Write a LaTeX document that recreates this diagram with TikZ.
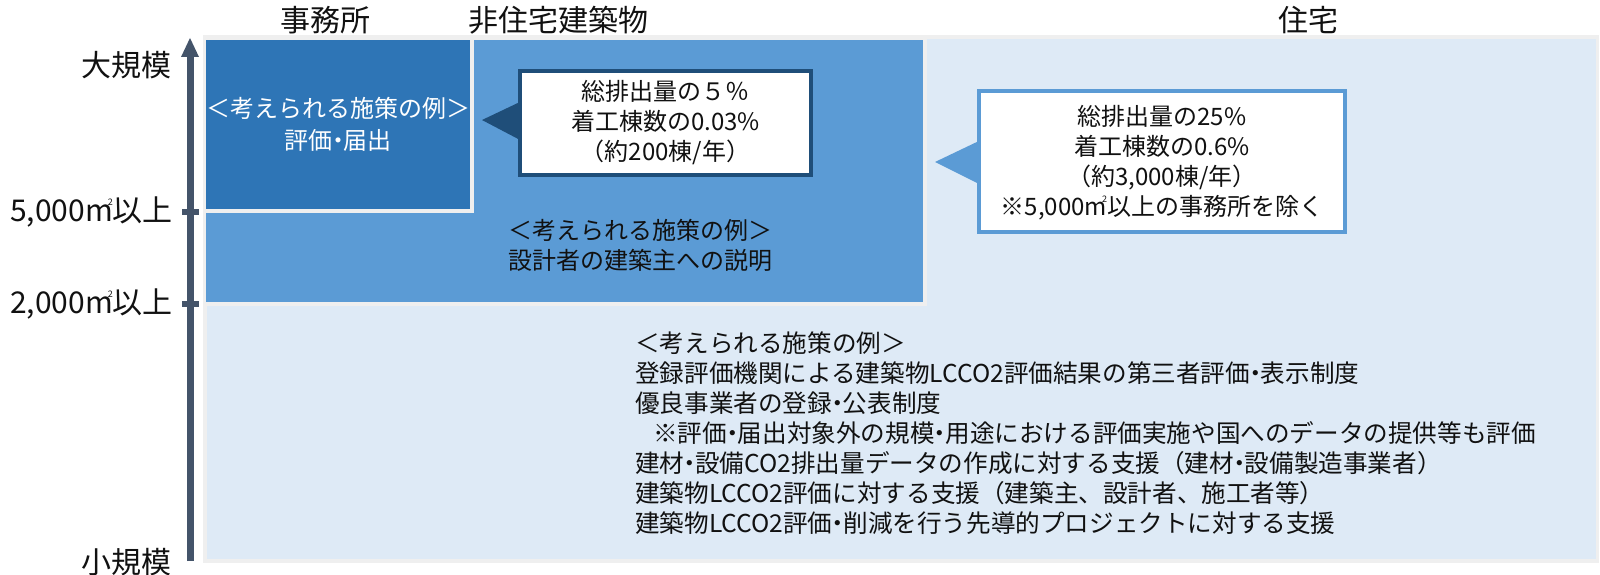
\documentclass[tikz,border=0pt]{standalone}
\usepackage{fontspec}
\newfontfamily\jp{Noto Sans CJK JP}
\definecolor{cDark}{HTML}{2E75B6}
\definecolor{cMid}{HTML}{5B9BD5}
\definecolor{cLight}{HTML}{DEEAF6}
\definecolor{cEdge}{HTML}{EFEFEF}
\definecolor{cNavy}{HTML}{1F4E79}
\definecolor{cAxis}{HTML}{44546A}
\definecolor{cText}{HTML}{111111}
\newcommand\sqmark{m\llap{\raisebox{0.55em}{\fontsize{9}{9}\selectfont 2}}}
\newcommand\nd{\kern-0.28em・\kern-0.28em}
\begin{document}
\begin{tikzpicture}[x=1pt,y=-1pt,
  body/.style={font=\jp\fontsize{24}{30}\selectfont, align=center, inner sep=0pt, text=cText},
  lab/.style={font=\jp\fontsize{30}{34}\selectfont, inner sep=0pt, text=cText},
  panel/.style={draw=cEdge, line width=3.5pt},
  callbox/.style={fill=white, line width=4pt, inner sep=0pt, rectangle}
]
\useasboundingbox (0,0) rectangle (1600,575);
% panels
\path[panel, fill=cLight] (205,37) rectangle (1597.5,561);
\path[panel, fill=cMid] (204.25,38.25) rectangle (924.75,303.75);
\path[panel, fill=cDark] (204.25,38.25) rectangle (471.75,210.75);
% axis
\coordinate (ab) at (190,561);
\coordinate (at) at (190,52);
\draw[cAxis, line width=7pt] (ab) -- (at);
\fill[cAxis] (181,57) -- (199,57) -- (190,38) -- cycle;
\coordinate (t5a) at (182,212); \coordinate (t5b) at (199,212);
\coordinate (t2a) at (182,304); \coordinate (t2b) at (199,304);
\draw[cAxis, line width=6pt] (t5a) -- (t5b);
\draw[cAxis, line width=6pt] (t2a) -- (t2b);
% axis labels
\node[lab, anchor=east] (big) at (172,65) {大規模};
\node[lab, anchor=east] (l5) at (173,212) {5,000\sqmark 以上};
\node[lab, anchor=east] (l2) at (173,304) {2,000\sqmark 以上};
\node[lab, anchor=east] (small) at (172,562) {小規模};
% column labels
\node[lab] (office) at (325,20) {事務所};
\node[lab] (nonres) at (558,20) {非住宅建築物};
\node[lab] (res) at (1308,20) {住宅};
% dark panel text
\node[body, text=white, font=\jp\fontsize{24}{32}\selectfont] (dtext) at (338,124) {＜考えられる施策の例＞\\評価\nd 届出};
% medium panel text
\node[body] (mtext) at (640,245) {＜考えられる施策の例＞\\設計者の建築主への説明};
% callout 1
\fill[cNavy] (482,120) -- (522,101) -- (522,141) -- cycle;
\node[callbox, draw=cNavy, minimum width=291pt, minimum height=104pt] (c1) at (665.5,123) {};
\node[body] (c1t) at (c1.center) {総排出量の５％\\着工棟数の0.03\%\\（約200棟/年）};
% callout 2
\fill[cMid] (935,162) -- (981,140) -- (981,185) -- cycle;
\node[callbox, draw=cMid, minimum width=366pt, minimum height=141pt] (c2) at (1162,161.5) {};
\node[body] (c2t) at (1162,163) {総排出量の25\%\\着工棟数の0.6\%\\（約3,000棟/年）\\※5,000\sqmark 以上の事務所を除く};
% bottom text
\node[body, align=left, anchor=west, font=\jp\fontsize{24.6}{30}\selectfont] (btext) at (635,433) {＜考えられる施策の例＞\\
登録評価機関による建築物LCCO2評価結果の第三者評価\nd 表示制度\\
優良事業者の登録\nd 公表制度\\
\hspace*{18pt}※評価\nd 届出対象外の規模\nd 用途における評価実施や国へのデータの提供等も評価\\
建材\nd 設備CO2排出量データの作成に対する支援（建材\nd 設備製造事業者）\\
建築物LCCO2評価に対する支援（建築主、設計者、施工者等）\\
建築物LCCO2評価\nd 削減を行う先導的プロジェクトに対する支援};
\end{tikzpicture}
\end{document}
